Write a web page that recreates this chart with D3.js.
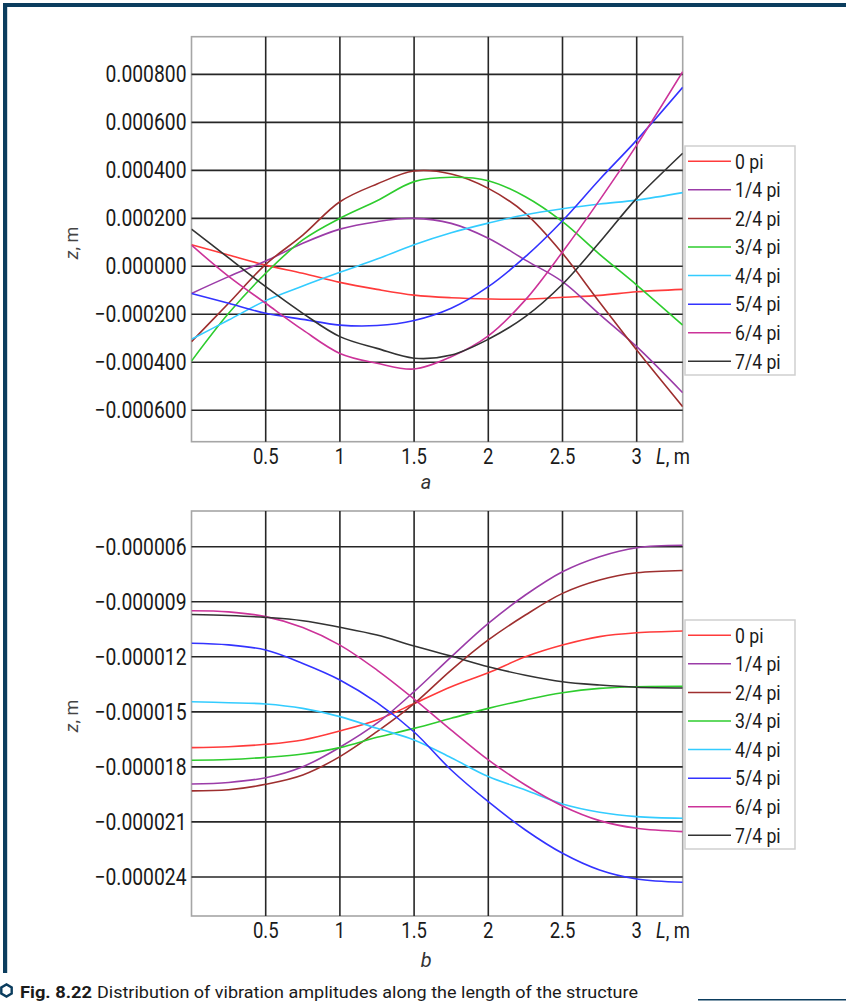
<!DOCTYPE html>
<html><head><meta charset="utf-8">
<script src="https://cdn.jsdelivr.net/npm/d3@7/dist/d3.min.js"></script>
<style>body{margin:0;background:#fff;} svg{display:block;}</style>
</head><body>
<svg id="chart" width="846" height="1001"></svg>
<script>
// ---------- DATA (z values in micrometres, 1e-6 m) ----------
const lengths = [0, 0.25, 0.5, 0.75, 1, 1.25, 1.5, 1.75, 2, 2.25, 2.5, 2.75, 3, 3.31];
const seriesNames = ["0 pi", "1/4 pi", "2/4 pi", "3/4 pi", "4/4 pi", "5/4 pi", "6/4 pi", "7/4 pi"];
const seriesColors = ["#ff3b3b", "#9b3ca8", "#9e2f2f", "#2ecc2e", "#33ccff", "#3333ff", "#cc3399", "#333333"];
const xTicks = [0.5, 1, 1.5, 2, 2.5, 3];
const yTicksA = [800, 600, 400, 200, 0, -200, -400, -600];
const yTicksB = [-6, -9, -12, -15, -18, -21, -24];

// panel a
const a_0pi  = [90, 47, 5, -29, -67, -96, -120, -131, -136, -137, -129, -121, -106, -96];
const a_1pi  = [-113, -43, 22, 96, 155, 186, 200, 179, 117, 26, -64, -200, -335, -527];
const a_2pi  = [-314, -154, 8, 130, 269, 343, 397, 385, 325, 221, 54, -150, -349, -585];
const a_3pi  = [-395, -196, -29, 110, 200, 273, 353, 371, 357, 290, 186, 50, -78, -245];
const a_4pi  = [-304, -224, -143, -82, -25, 30, 90, 140, 180, 215, 240, 260, 276, 307];
const a_5pi  = [-113, -154, -196, -221, -245, -247, -226, -175, -85, 40, 190, 362, 526, 746];
const a_6pi  = [88, -42, -154, -265, -363, -404, -428, -377, -290, -140, 60, 276, 505, 811];
const a_7pi  = [155, 35, -85, -196, -293, -342, -383, -370, -304, -210, -75, 100, 283, 471];

// panel b
const b_0pi  = [-16.95, -16.9, -16.77, -16.53, -16.04, -15.44, -14.55, -13.63, -12.87, -12.0, -11.36, -10.9, -10.69, -10.59];
const b_1pi  = [-18.93, -18.85, -18.59, -17.99, -16.93, -15.62, -13.9, -12.0, -10.18, -8.63, -7.36, -6.54, -6.05, -5.92];
const b_2pi  = [-19.31, -19.25, -18.95, -18.44, -17.44, -16.08, -14.55, -12.72, -11.08, -9.72, -8.54, -7.81, -7.42, -7.29];
const b_3pi  = [-17.64, -17.6, -17.48, -17.3, -16.95, -16.39, -15.9, -15.35, -14.81, -14.35, -13.96, -13.72, -13.63, -13.61];
const b_4pi  = [-14.45, -14.5, -14.57, -14.81, -15.26, -15.9, -16.53, -17.5, -18.53, -19.26, -20.02, -20.47, -20.71, -20.8];
const b_5pi  = [-11.26, -11.35, -11.63, -12.36, -13.26, -14.5, -16.1, -18.17, -19.9, -21.44, -22.71, -23.62, -24.11, -24.29];
const b_6pi  = [-9.49, -9.55, -9.81, -10.4, -11.36, -12.72, -14.3, -15.99, -17.62, -18.99, -20.13, -20.93, -21.35, -21.53];
const b_7pi  = [-9.69, -9.75, -9.85, -10.03, -10.39, -10.81, -11.41, -11.96, -12.54, -13.0, -13.36, -13.54, -13.66, -13.70];

const panelASeries = [a_0pi, a_1pi, a_2pi, a_3pi, a_4pi, a_5pi, a_6pi, a_7pi];
const panelBSeries = [b_0pi, b_1pi, b_2pi, b_3pi, b_4pi, b_5pi, b_6pi, b_7pi];

// ---------- DRAWING ----------
const svg = d3.select("#chart");
const FONT = "Roboto, 'Noto Sans', sans-serif";
const NAVY = "#0b3d5e";

// page frame
svg.append("rect").attr("x", 3).attr("y", 3).attr("width", 843).attr("height", 4).attr("fill", NAVY);
svg.append("rect").attr("x", 3).attr("y", 3).attr("width", 4.2).attr("height", 970).attr("fill", NAVY);
svg.append("line").attr("x1", 698).attr("x2", 846).attr("y1", 999.8).attr("y2", 999.8)
  .attr("stroke", NAVY).attr("stroke-width", 1.5);

function fmtTick(v) {
  const m = v * 1e-6;
  const s = Math.abs(m).toFixed(6);
  return (m < -1e-12 ? "\u2212" : "") + s;
}

function condensedText(g, x, y, str, size, anchor, sx) {
  const gg = g.append("g").attr("transform", `translate(${x},${y}) scale(${sx},1)`);
  return gg.append("text").attr("x", 0).attr("y", 0)
    .attr("font-family", FONT).attr("font-size", size).attr("fill", "#1a1a1a")
    .attr("text-anchor", anchor).text(str);
}

function drawPanel(opt) {
  const g = svg.append("g");
  const x = d3.scaleLinear().domain([0, 3.31]).range([opt.left, opt.right]);
  const y = d3.scaleLinear().domain(opt.yDomain).range([opt.top, opt.bottom]);
  const clipId = "clip" + opt.id;
  svg.append("clipPath").attr("id", clipId).append("rect")
    .attr("x", opt.left).attr("y", opt.top)
    .attr("width", opt.right - opt.left).attr("height", opt.bottom - opt.top);

  // frame
  g.append("rect").attr("x", opt.left).attr("y", opt.top)
    .attr("width", opt.right - opt.left).attr("height", opt.bottom - opt.top)
    .attr("fill", "#fff").attr("stroke", "#a6a6a6").attr("stroke-width", 1.6);

  // grid
  g.selectAll(".vg").data(xTicks).enter().append("line")
    .attr("x1", d => x(d)).attr("x2", d => x(d))
    .attr("y1", opt.top).attr("y2", opt.bottom)
    .attr("stroke", "#262626").attr("stroke-width", 1.6);
  g.selectAll(".hg").data(opt.yTicks).enter().append("line")
    .attr("x1", opt.left).attr("x2", opt.right)
    .attr("y1", d => y(d)).attr("y2", d => y(d))
    .attr("stroke", "#262626").attr("stroke-width", 1.6);

  // y tick labels
  opt.yTicks.forEach(t => condensedText(g, opt.left - 5, y(t) + 8.1, fmtTick(t), 23, "end", 0.84));
  // x tick labels
  xTicks.forEach(t => condensedText(g, x(t), opt.bottom + 21.8, String(t), 22, "middle", 0.84));
  // L, m
  const lg = g.append("g").attr("transform", `translate(656,${opt.bottom + 21.8}) scale(0.84,1)`);
  const lt = lg.append("text").attr("font-family", FONT).attr("font-size", 22).attr("fill", "#1a1a1a");
  lt.append("tspan").attr("font-style", "italic").text("L");
  lt.append("tspan").text(", m");

  // axis title z, m
  const zt = g.append("text").attr("transform", `translate(78,${opt.zY}) rotate(-90)`)
    .attr("font-family", FONT).attr("font-size", 18).attr("fill", "#444").attr("text-anchor", "middle");
  zt.append("tspan").attr("font-style", "italic").text("z");
  zt.append("tspan").text(", m");

  // panel letter
  g.append("text").attr("x", (opt.left + opt.right) / 2 - 11).attr("y", opt.letterY)
    .attr("font-family", FONT).attr("font-size", 20).attr("font-style", "italic")
    .attr("fill", "#333").attr("text-anchor", "middle").text(opt.letter);

  // curves
  const line = d3.line().x((d, i) => x(lengths[i])).y(d => y(d)).curve(d3.curveCatmullRom.alpha(0.5));
  const cg = g.append("g").attr("clip-path", `url(#${clipId})`);
  opt.series.forEach((s, i) => {
    cg.append("path").attr("d", line(s)).attr("fill", "none")
      .attr("stroke", seriesColors[i]).attr("stroke-width", 1.6);
  });

  // legend
  const lgd = g.append("g");
  lgd.append("rect").attr("x", 685).attr("y", opt.legendTop)
    .attr("width", 110).attr("height", 229).attr("fill", "#fff")
    .attr("stroke", "#cfcfcf").attr("stroke-width", 1.5);
  seriesNames.forEach((n, i) => {
    const cy = opt.legendTop + 15.3 + i * 28.57;
    lgd.append("line").attr("x1", 688).attr("x2", 731).attr("y1", cy).attr("y2", cy)
      .attr("stroke", seriesColors[i]).attr("stroke-width", 1.5);
    condensedText(lgd, 735, cy + 7.3, n, 21, "start", 0.84);
  });
}

drawPanel({
  id: "a", left: 191.5, right: 682.7, top: 36.7, bottom: 441.7,
  yDomain: [957, -731], yTicks: yTicksA, series: panelASeries,
  zY: 243, letter: "a", letterY: 488.5, legendTop: 146
});
drawPanel({
  id: "b", left: 191.5, right: 682.7, top: 511, bottom: 916,
  yDomain: [-4.05, -26.13], yTicks: yTicksB, series: panelBSeries,
  zY: 716, letter: "b", letterY: 966.5, legendTop: 620
});

// caption
const hx = 6.5, hy = 990.5, hr = 6;
const hex = d3.range(6).map(k => {
  const a = Math.PI / 3 * k + Math.PI / 6;
  return [hx + hr * Math.cos(a), hy + hr * Math.sin(a)];
});
svg.append("path").attr("d", d3.line()(hex) + "Z").attr("fill", "none")
  .attr("stroke", NAVY).attr("stroke-width", 2.4);
svg.append("text").attr("x", 20).attr("y", 997.5)
  .attr("font-family", FONT).attr("font-size", 16).attr("font-weight", "bold").attr("fill", "#1a1a1a")
  .attr("textLength", 72).attr("lengthAdjust", "spacingAndGlyphs").text("Fig. 8.22");
svg.append("text").attr("x", 97).attr("y", 997.5)
  .attr("font-family", FONT).attr("font-size", 16).attr("fill", "#1a1a1a")
  .attr("textLength", 541).attr("lengthAdjust", "spacingAndGlyphs")
  .text("Distribution of vibration amplitudes along the length of the structure");
</script>
</body></html>
